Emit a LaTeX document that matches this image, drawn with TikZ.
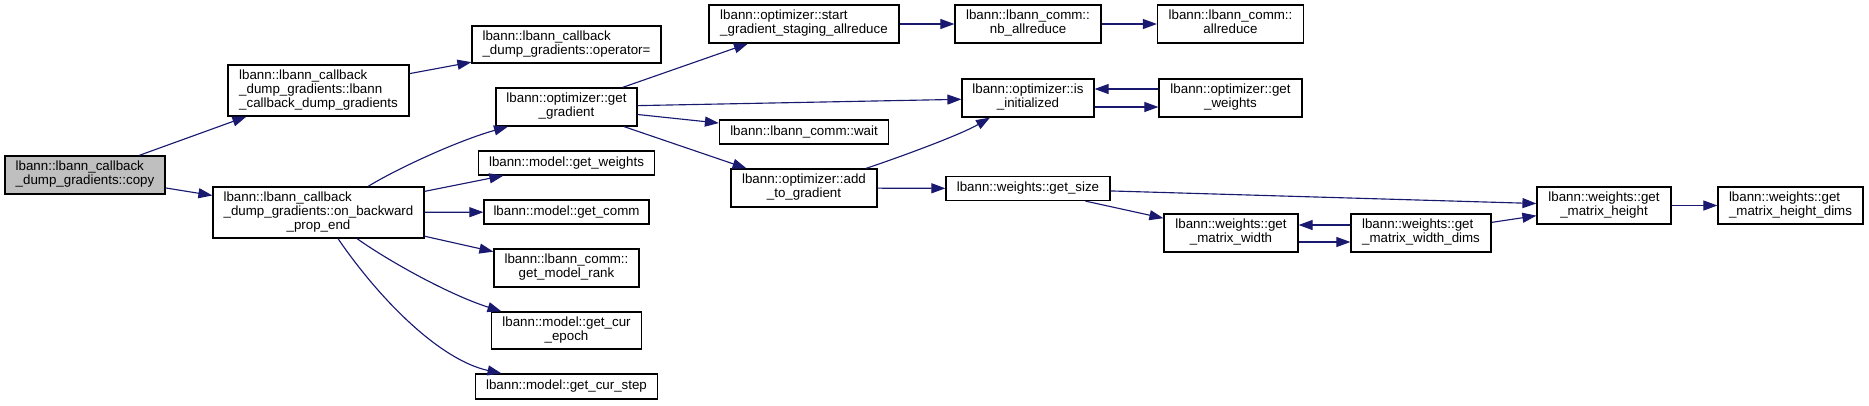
\documentclass[tikz,border=0pt]{standalone}
\usepackage{fontspec}
\setmainfont{Liberation Sans}
\usetikzlibrary{arrows.meta,calc}
\definecolor{edgeblue}{HTML}{191970}
\definecolor{hlgray}{HTML}{BFBFBF}
\newcommand{\twol}[2]{\begin{tabular}{@{}l@{}}#1\\\multicolumn{1}{@{}c@{}}{#2}\end{tabular}}
\newcommand{\threel}[3]{\begin{tabular}{@{}l@{}}#1\\#2\\\multicolumn{1}{@{}c@{}}{#3}\end{tabular}}
\newcommand{\nd}[7][]{\node[fbox,#1,minimum width=#5*0.75pt,minimum height=#6*0.75pt] (#2) at (#3,#4) {#7};}
\begin{document}
\begin{tikzpicture}[x=0.75pt,y=-0.75pt,
  fbox/.style={draw=black,line width=0.9pt,fill=white,rectangle,inner sep=0pt,
    font=\fontsize{10}{10.1}\selectfont},
  call/.style={draw=edgeblue,line width=0.85pt,-{Triangle[length=10.5pt,width=7.5pt]},fill=none}]
\useasboundingbox (0,0) rectangle (1869,405);
% rank 0-1
\nd[fill=hlgray]{copy}{85}{175}{160}{38}{\twol{lbann::lbann\_callback}{\_dump\_gradients::copy}}
\nd{ctor}{318.5}{90.5}{181}{51}{\threel{lbann::lbann\_callback}{\_dump\_gradients::lbann}{\_callback\_dump\_gradients}}
\nd{onbp}{318.5}{212.5}{211}{51}{\threel{lbann::lbann\_callback}{\_dump\_gradients::on\_backward}{\_prop\_end}}
% rank 2
\nd{opeq}{566.5}{44.5}{189}{37}{\twol{lbann::lbann\_callback}{\_dump\_gradients::operator=}}
\nd{gg}{566.5}{107}{141}{38}{\twol{lbann::optimizer::get}{\_gradient}}
\nd{mgw}{566.5}{163}{176}{24}{lbann::model::get\_weights}
\nd{mgc}{566.5}{212}{165}{24}{lbann::model::get\_comm}
\nd{gmr}{566.5}{268}{145}{38}{\twol{lbann::lbann\_comm::}{get\_model\_rank}}
\nd{gce}{566.5}{330.5}{150}{37}{\twol{lbann::model::get\_cur}{\_epoch}}
\nd{gcs}{566.5}{386.5}{182}{25}{lbann::model::get\_cur\_step}
% rank 3
\nd{sgsa}{804}{24}{190}{38}{\twol{lbann::optimizer::start}{\_gradient\_staging\_allreduce}}
\nd{wait}{804}{132}{169}{24}{lbann::lbann\_comm::wait}
\nd{atg}{804}{188}{146}{38}{\twol{lbann::optimizer::add}{\_to\_gradient}}
% rank 4
\nd{nbar}{1028}{24}{146}{38}{\twol{lbann::lbann\_comm::}{nb\_allreduce}}
\nd{isinit}{1028}{98}{132}{38}{\twol{lbann::optimizer::is}{\_initialized}}
\nd{gsz}{1028}{188.5}{164}{24}{lbann::weights::get\_size}
% rank 5
\nd{ar}{1230.5}{24}{146}{38}{\twol{lbann::lbann\_comm::}{allreduce}}
\nd{ogw}{1230.5}{98}{143}{38}{\twol{lbann::optimizer::get}{\_weights}}
\nd{mw}{1231}{233}{134}{38}{\twol{lbann::weights::get}{\_matrix\_width}}
% rank 6-8
\nd{wd}{1421}{233}{140}{38}{\twol{lbann::weights::get}{\_matrix\_width\_dims}}
\nd{mh}{1604}{205.5}{134}{37}{\twol{lbann::weights::get}{\_matrix\_height}}
\nd{hd}{1790.5}{205.5}{145}{37}{\twol{lbann::weights::get}{\_matrix\_height\_dims}}
% edges
\draw[call] (copy) -- (ctor);
\draw[call] (copy) -- (onbp);
\draw[call] (ctor) -- (opeq);
\draw[call] ($(onbp.north)+(49.5,0)$) .. controls (400,167) and (460,140) .. ($(gg.south)+(-58.5,0)$);
\draw[call] (onbp) -- (mgw);
\draw[call] (onbp) -- (mgc);
\draw[call] (onbp) -- (gmr);
\draw[call] ($(onbp.south)+(38.5,0)$) .. controls (390,262) and (450,295) .. ($(gce.north)+(-65,0)$);
\draw[call] ($(onbp.south)+(19.5,0)$) .. controls (380,300) and (440,360) .. ($(gcs.north)+(-65,0)$);
\draw[call] (gg) -- (sgsa);
\draw[call] (gg) -- (isinit);
\draw[call] (gg) -- (wait);
\draw[call] (gg) -- (atg);
\draw[call] (sgsa) -- (nbar);
\draw[call] (nbar) -- (ar);
\draw[call] ($(atg.north)+(62,0)$) .. controls (900,157) and (960,135) .. ($(isinit.south)+(-38,0)$);
\draw[call] (atg) -- (gsz);
\draw[call] ($(isinit.east)+(0,9)$) -- ($(ogw.west)+(0,9)$);
\draw[call] ($(ogw.west)+(0,-9)$) -- ($(isinit.east)+(0,-9)$);
\draw[call] (gsz) -- (mh);
\draw[call] (gsz) -- (mw);
\draw[call] ($(mw.east)+(0,9)$) -- ($(wd.west)+(0,9)$);
\draw[call] ($(wd.west)+(0,-8)$) -- ($(mw.east)+(0,-8)$);
\draw[call] (wd) -- (mh);
\draw[call] (mh) -- (hd);
\end{tikzpicture}
\end{document}
